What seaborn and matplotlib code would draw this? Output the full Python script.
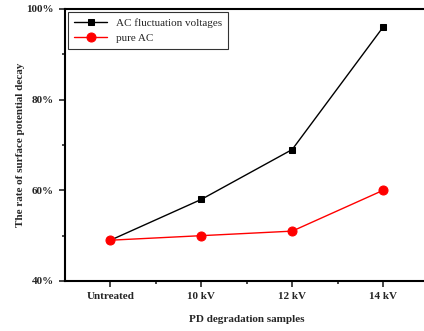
import matplotlib
matplotlib.use("Agg")
import matplotlib.pyplot as plt
import seaborn as sns
import pandas as pd
from matplotlib.ticker import FuncFormatter, MultipleLocator, FixedLocator

categories = ["Untreated", "10 kV", "12 kV", "14 kV"]
fluct_values = [49, 58, 69, 96]
pure_values = [49, 50, 51, 60]
series_names = ["AC fluctuation voltages", "pure AC"]

sns.set_style("ticks")
plt.rcParams['font.family'] = ['Liberation Serif', 'DejaVu Serif']

df = pd.DataFrame({
    "x": list(range(len(categories))) * 2,
    "y": fluct_values + pure_values,
    "series": [series_names[0]] * len(categories) + [series_names[1]] * len(categories),
})

fig = plt.figure(figsize=(4.24, 3.31), dpi=100)
ax = fig.add_axes([65/424, 1-281/331, (428.5-65)/424, (281-9)/331])

sns.lineplot(data=df[df.series == series_names[0]], x="x", y="y", ax=ax,
             color="black", marker="s", markersize=5, linewidth=1,
             markeredgecolor="black", label=series_names[0])
sns.lineplot(data=df[df.series == series_names[1]], x="x", y="y", ax=ax,
             color="red", marker="o", markersize=6.5, linewidth=1,
             markeredgecolor="red", label=series_names[1])

fs = 8
ax.set_xlim(-0.5, 3.5)
ax.set_ylim(40, 100)
ax.set_xticks(range(len(categories)))
ax.set_xticklabels(categories, fontweight="bold", fontsize=fs)
ax.xaxis.set_minor_locator(FixedLocator([0.5, 1.5, 2.5]))
ax.yaxis.set_major_locator(MultipleLocator(20))
ax.yaxis.set_minor_locator(MultipleLocator(10))
ax.yaxis.set_major_formatter(FuncFormatter(lambda v, p: f"{int(v)}%"))
for lab in ax.get_yticklabels():
    lab.set_fontweight("bold")
    lab.set_fontsize(fs)
ax.tick_params(axis="both", which="major", direction="out", length=4, width=1.2)
ax.tick_params(axis="both", which="minor", direction="out", length=2.5, width=1.2)
ax.tick_params(axis="x", which="major", pad=4)
ax.tick_params(axis="y", which="major", pad=4)

for s in ax.spines.values():
    s.set_linewidth(1.5)
    s.set_color("black")

ax.set_xlabel("PD degradation samples", fontweight="bold", fontsize=fs, labelpad=10)
ax.set_ylabel("The rate of surface potential decay", fontweight="bold", fontsize=fs, labelpad=1)

leg = ax.legend(loc="upper left", fontsize=fs, frameon=True, fancybox=False,
                edgecolor="black", borderaxespad=0.3, handlelength=3,
                labelspacing=0.5, borderpad=0.5)
leg.get_frame().set_linewidth(0.8)

fig.savefig("out.png", dpi=100)
